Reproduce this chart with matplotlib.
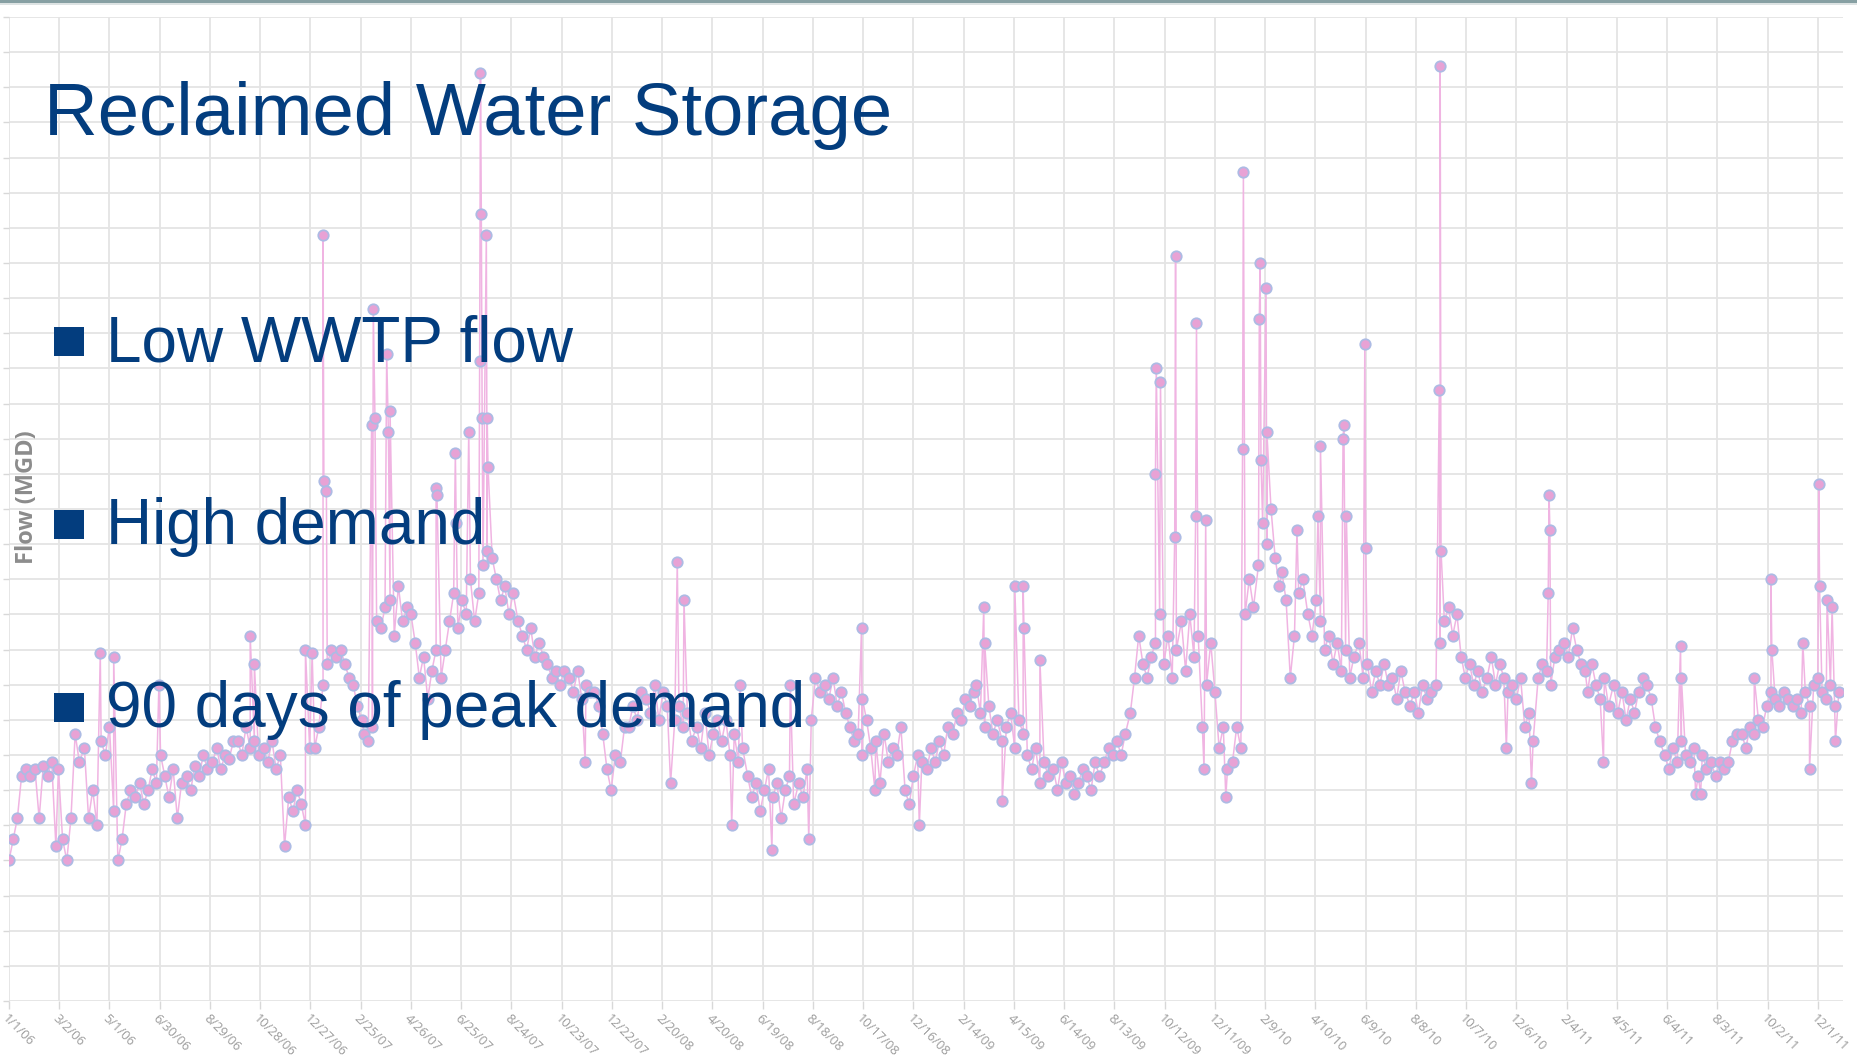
import numpy as np
import pandas as pd
import matplotlib
matplotlib.use("Agg")
import matplotlib.pyplot as plt
from matplotlib.patches import Rectangle

# 每月取样日 (1, 6, 11, 16, 21, 26 日)
sample_days = [1, 6, 11, 16, 21, 26]

# 日流量 (MGD), 每行一个月
flow_2006 = [
    2.0, 2.3, 2.6, 3.2, 3.3, 3.2,
    3.3, 2.6, 3.35, 3.2, 3.4, 2.2,
    3.3, 2.3, 2.0, 2.6, 3.8, 3.4,
    3.6, 2.6, 3.0, 2.5, 3.7, 3.5,
    3.9, 2.7, 2.0, 2.3, 2.8, 3.0,
    2.9, 3.1, 2.8, 3.0, 3.3, 3.1,
    3.5, 3.2, 2.9, 3.3, 2.6, 3.1,
    3.2, 3.0, 3.35, 3.2, 3.5, 3.3,
    3.4, 3.6, 3.3, 3.5, 3.45, 3.7,
    3.7, 3.5, 3.9, 3.6, 3.7, 3.5,
    3.6, 3.4, 3.7, 3.3, 3.5, 2.2,
    2.9, 2.7, 3.0, 2.8, 2.5, 3.6,
]
flow_2007 = [
    3.6, 3.9, 4.5, 4.8, 5.0, 4.9,
    5.0, 4.8, 4.6, 4.5, 4.2, 4.0,
    3.8, 3.7, 3.9, 5.4, 5.3, 5.6,
    5.7, 5.2, 5.9, 5.4, 5.6, 5.5,
    5.1, 4.6, 4.9, 4.3, 4.7, 5.0,
    4.6, 5.0, 5.4, 5.8, 5.3, 5.7,
    5.5, 6.0, 5.4, 5.8, 6.2, 6.4,
    6.3, 6.0, 5.7, 5.9, 5.5, 5.8,
    5.4, 5.2, 5.0, 5.3, 4.9, 5.1,
    4.9, 4.8, 4.6, 4.7, 4.5, 4.7,
    4.6, 4.4, 4.7, 4.3, 4.5, 4.4,
    4.4, 4.2, 3.8, 3.3, 3.0, 3.5,
]
flow_2008 = [
    3.4, 3.9, 3.9, 4.2, 4.0, 4.4,
    4.3, 4.1, 4.5, 4.0, 4.4, 4.2,
    3.1, 4.0, 4.2, 3.9, 4.1, 3.7,
    3.9, 3.6, 4.1, 3.5, 3.8, 4.0,
    3.7, 4.0, 3.5, 3.8, 3.4, 3.6,
    3.2, 2.9, 3.1, 2.7, 3.0, 3.3,
    2.9, 3.1, 2.6, 3.0, 3.2, 2.8,
    3.1, 2.9, 3.3, 4.0, 4.6, 4.4,
    4.5, 4.3, 4.6, 4.2, 4.4, 4.1,
    3.9, 3.7, 3.8, 3.5, 4.0, 3.6,
    3.7, 3.1, 3.8, 3.4, 3.6, 3.5,
    3.9, 3.0, 2.8, 3.2, 3.5, 3.4,
]
flow_2009 = [
    3.3, 3.6, 3.4, 3.7, 3.5, 3.9,
    3.8, 4.1, 4.0, 4.3, 4.2, 4.4,
    4.5, 4.1, 3.9, 4.2, 3.8, 4.0,
    3.7, 3.9, 4.1, 3.6, 4.0, 3.8,
    3.5, 3.3, 3.6, 3.1, 3.4, 3.2,
    3.3, 3.0, 3.4, 3.1, 3.2, 2.95,
    3.1, 3.3, 3.2, 3.0, 3.4, 3.2,
    3.4, 3.6, 3.5, 3.7, 3.5, 3.8,
    4.1, 4.6, 5.2, 4.8, 4.6, 4.9,
    5.1, 5.5, 4.8, 5.2, 4.6, 5.0,
    5.4, 4.7, 5.5, 4.9, 5.2, 3.9,
    4.5, 5.1, 4.4, 3.6, 3.9, 3.3,
]
flow_2010 = [
    3.4, 3.9, 3.6, 5.5, 6.0, 5.6,
    6.2, 6.8, 6.5, 7.0, 6.3, 5.9,
    6.1, 5.7, 4.6, 5.2, 5.8, 6.0,
    5.5, 5.2, 5.7, 5.4, 5.0, 5.2,
    4.8, 5.1, 4.7, 5.0, 4.6, 4.9,
    5.1, 4.6, 4.8, 4.4, 4.7, 4.5,
    4.8, 4.5, 4.6, 4.3, 4.7, 4.4,
    4.2, 4.4, 4.1, 4.5, 4.3, 4.4,
    4.5, 5.1, 5.4, 5.6, 5.2, 5.5,
    4.9, 4.6, 4.8, 4.5, 4.7, 4.4,
    4.6, 4.9, 4.5, 4.8, 4.6, 4.4,
    4.5, 4.3, 4.6, 3.9, 4.1, 3.7,
]
flow_2011 = [
    4.6, 4.8, 4.7, 4.5, 4.9, 5.0,
    5.1, 4.9, 5.3, 5.0, 4.8, 4.7,
    4.4, 4.8, 4.5, 4.3, 4.6, 4.2,
    4.5, 4.1, 4.4, 4.0, 4.3, 4.1,
    4.4, 4.6, 4.5, 4.3, 3.9, 3.7,
    3.5, 3.3, 3.6, 3.4, 3.7, 3.5,
    3.4, 3.6, 3.2, 3.5, 3.3, 3.4,
    3.2, 3.4, 3.3, 3.4, 3.7, 3.8,
    3.8, 3.6, 3.9, 3.8, 4.0, 3.9,
    4.2, 4.4, 4.3, 4.2, 4.4, 4.3,
    4.2, 4.3, 4.1, 4.4, 4.2, 4.5,
    4.6, 4.4, 4.3, 4.5, 4.2, 4.4,
]
yearly_flows = {2006: flow_2006, 2007: flow_2007, 2008: flow_2008,
                2009: flow_2009, 2010: flow_2010, 2011: flow_2011}

# 尖峰 / 低谷日
spike_dates = [
    "2006-04-20", "2006-05-06", "2006-06-29", "2006-10-16", "2006-10-21", "2006-12-21", "2006-12-29",
    "2007-01-11", "2007-01-12", "2007-01-15", "2007-03-10", "2007-03-12", "2007-03-14", "2007-03-28",
    "2007-03-30", "2007-04-01", "2007-05-26", "2007-05-27", "2007-06-18", "2007-06-19", "2007-07-04",
    "2007-07-17", "2007-07-18", "2007-07-19", "2007-07-20", "2007-07-25", "2007-07-26", "2007-07-27",
    "2007-11-20",
    "2008-03-09", "2008-03-17", "2008-05-13", "2008-05-23", "2008-06-30", "2008-07-22", "2008-08-13",
    "2008-10-15", "2008-10-16", "2008-10-31", "2008-12-23",
    "2009-03-10", "2009-03-11", "2009-04-01", "2009-04-16", "2009-04-26", "2009-04-27", "2009-05-16",
    "2009-10-01", "2009-10-02", "2009-10-07", "2009-10-24", "2009-10-25", "2009-11-18", "2009-11-19",
    "2009-11-28", "2009-11-30", "2009-12-24",
    "2010-01-13", "2010-01-14", "2010-02-02", "2010-02-03", "2010-02-04", "2010-02-10", "2010-02-11",
    "2010-03-19", "2010-04-13", "2010-04-16", "2010-05-13", "2010-05-14", "2010-05-17", "2010-06-08",
    "2010-06-09", "2010-09-05", "2010-09-06", "2010-09-07", "2010-11-24", "2010-12-24",
    "2011-01-13", "2011-01-14", "2011-01-15", "2011-03-20", "2011-06-20", "2011-06-21", "2011-07-08",
    "2011-07-14", "2011-09-16", "2011-10-06", "2011-10-07", "2011-11-13", "2011-11-21", "2011-12-02",
    "2011-12-03", "2011-12-12", "2011-12-18", "2011-12-22",
]
spike_flows = [
    4.95, 4.9, 4.5, 5.2, 4.8, 5.0, 4.95,
    10.9, 7.4, 7.25, 8.2, 9.85, 8.3, 9.2,
    8.1, 8.4, 7.3, 7.2, 7.8, 6.8, 8.1,
    9.1, 13.2, 11.2, 8.3, 10.9, 8.3, 7.6,
    3.4,
    6.25, 5.7, 2.5, 4.5, 2.15, 4.5, 2.3,
    5.3, 4.3, 3.0, 2.5,
    5.6, 5.1, 2.85, 5.9, 5.9, 5.3, 4.85,
    7.5, 9.0, 8.8, 6.6, 10.6, 6.9, 9.65,
    3.3, 6.85, 2.9,
    7.85, 11.8, 9.7, 10.5, 7.7, 10.15, 8.1,
    6.7, 6.9, 7.9, 8.0, 8.2, 6.9, 9.35,
    6.45, 8.7, 13.3, 6.4, 3.6, 3.1,
    5.8, 7.2, 6.7, 3.4, 5.05, 4.6, 2.95,
    2.95, 4.6, 6.0, 5.0, 5.1, 3.3, 7.35,
    5.9, 5.7, 5.6, 3.7,
]

title_text = "Reclaimed Water Storage"
bullet_texts = ["Low WWTP flow", "High demand", "90 days of peak demand"]
y_label = "Flow (MGD)"

# 组装时间序列
dates = []
flows = []
for year, vals in yearly_flows.items():
    k = 0
    for month in range(1, 13):
        for day in sample_days:
            dates.append(pd.Timestamp(year, month, day))
            flows.append(vals[k])
            k += 1
dates += [pd.Timestamp(d) for d in spike_dates]
flows += spike_flows
df = pd.DataFrame({"date": dates, "flow": flows}).sort_values("date", kind="mergesort")

tick_dates = pd.date_range("2006-01-01", periods=37, freq="60D")
tick_labels = [f"{d.month}/{d.day}/{d.year % 100:02d}" for d in tick_dates]

W, H = 1858, 1063
fig = plt.figure(figsize=(W / 100, H / 100), dpi=100)
ax = fig.add_axes([9 / W, 1 - 1001 / H, 1834 / W, 984 / H])

grid_c = "#e4e4e4"
ax.set_xlim(pd.Timestamp("2006-01-01"), pd.Timestamp("2011-12-31"))
ax.set_ylim(0, 14)
ax.set_xticks(tick_dates)
ax.set_xticklabels(tick_labels, rotation=-45, ha="left", va="top",
                   rotation_mode="anchor", fontsize=9.3, color="#9c9c9c",
                   family="Open Sans")
ax.set_yticks(np.arange(0, 14.01, 0.5))
ax.set_yticklabels([])
ax.tick_params(axis="x", length=6, width=1, color="#d8d8d8", pad=2)
ax.tick_params(axis="y", length=4, width=1, color="#d8d8d8")
ax.grid(True, color=grid_c, lw=1.3)
ax.set_axisbelow(True)
for s in ax.spines.values():
    s.set_visible(False)

ax.plot(df["date"], df["flow"], color="#f0b4e2", lw=1.1, zorder=2)
ax.plot(df["date"], df["flow"], "o", ms=7.5, mfc="#e8a2d5", mec="#adbbe4",
        mew=1.3, zorder=3)

# 幻灯片文字
navy = "#033d7e"
fig.text(44 / W, 1 - 135 / H, title_text, fontsize=53.6, color=navy,
         family="Liberation Sans", va="baseline", ha="left")
for txt, base in zip(bullet_texts, [361, 544, 727]):
    fig.text(106 / W, 1 - base / H, txt, fontsize=46, color=navy,
             family="Liberation Sans", va="baseline", ha="left")
    fig.add_artist(Rectangle((54 / W, 1 - (base - 5) / H), 30 / W, 29 / H,
                             transform=fig.transFigure, color=navy, lw=0))

fig.text(27 / W, 1 - 497 / H, y_label, rotation=90, fontsize=17,
         color="#8c8c8c", weight="bold", family="Open Sans",
         ha="center", va="center")

# 顶部边线
fig.add_artist(Rectangle((0, 1 - 3 / H), 1, 3 / H, transform=fig.transFigure,
                         color="#87a0a3", lw=0))
fig.add_artist(Rectangle((0, 1 - 5 / H), 1, 2 / H, transform=fig.transFigure,
                         color="#dde3e3", lw=0))

fig.savefig("out.png", dpi=100)
